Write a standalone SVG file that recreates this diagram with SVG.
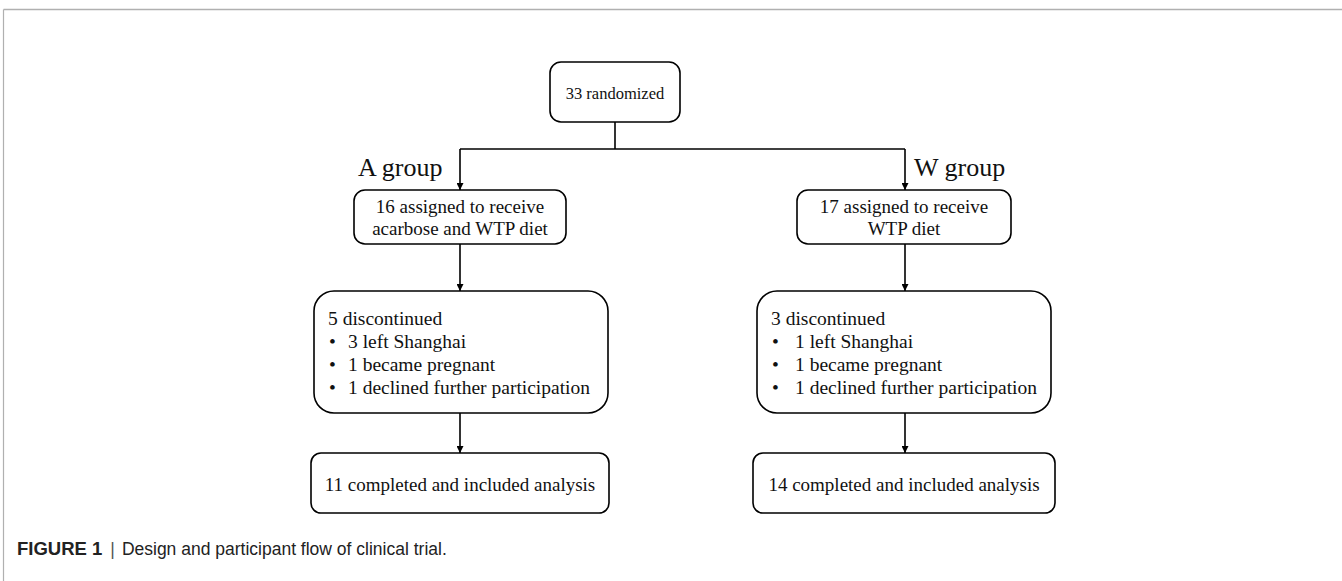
<svg xmlns="http://www.w3.org/2000/svg" width="1342" height="581" viewBox="0 0 1342 581">
<style>
.box{fill:#fff;stroke:#000;stroke-width:1.6}
.t{font-family:"Liberation Serif","Times New Roman",serif;fill:#111;font-size:19px}
.d{font-size:19.5px}
.c{text-anchor:middle}
.lbl{font-family:"Liberation Serif","Times New Roman",serif;fill:#111;font-size:26px}
.ln{stroke:#000;stroke-width:1.6;fill:none}
.cap{font-family:"Liberation Sans",Arial,sans-serif;font-size:17.5px;fill:#222}
</style>
<defs>
<marker id="ah" viewBox="0 0 10 10" refX="10" refY="5" markerWidth="9" markerHeight="7" markerUnits="userSpaceOnUse" orient="auto">
<path d="M0,0 L10,5 L0,10 z" fill="#000"/>
</marker>
</defs>
<rect width="1342" height="581" fill="#fff"/>
<g id="frame">
<line x1="3.5" y1="9.5" x2="1342" y2="9.5" stroke="#b0b0b0" stroke-width="1.5"/>
<line x1="3.5" y1="9.5" x2="3.5" y2="581" stroke="#b0b0b0" stroke-width="1.2"/>
</g>
<g id="connectors">
<path class="ln" d="M615,122 V149"/>
<path class="ln" d="M460,149 H905"/>
<path class="ln" d="M460,149 V190" marker-end="url(#ah)"/>
<path class="ln" d="M905,149 V190" marker-end="url(#ah)"/>
<path class="ln" d="M460,243 V291" marker-end="url(#ah)"/>
<path class="ln" d="M905,243 V291" marker-end="url(#ah)"/>
<path class="ln" d="M460,413 V453" marker-end="url(#ah)"/>
<path class="ln" d="M905,413 V453" marker-end="url(#ah)"/>
</g>
<g id="randomized">
<rect class="box" x="550" y="62" width="130" height="60" rx="11"/>
<text class="t c" x="615" y="99" style="font-size:16.5px">33 randomized</text>
</g>
<g id="labelA"><text class="lbl" x="358" y="176">A group</text></g>
<g id="labelW"><text class="lbl" x="914" y="176">W group</text></g>
<g id="assignA">
<rect class="box" x="354" y="190" width="212" height="54" rx="11"/>
<text class="t c" x="460" y="213">16 assigned to receive</text>
<text class="t c" x="460" y="235">acarbose and WTP diet</text>
</g>
<g id="assignW">
<rect class="box" x="797" y="190" width="214" height="54" rx="11"/>
<text class="t c" x="904" y="213">17 assigned to receive</text>
<text class="t c" x="904" y="235">WTP diet</text>
</g>
<g id="discA">
<rect class="box" x="314" y="291" width="294" height="122" rx="20"/>
<text class="t d" x="328" y="325">5 discontinued</text>
<text class="t d" x="329" y="348">•</text><text class="t d" x="348" y="348">3 left Shanghai</text>
<text class="t d" x="329" y="371">•</text><text class="t d" x="348" y="371">1 became pregnant</text>
<text class="t d" x="329" y="394">•</text><text class="t d" x="348" y="394">1 declined further participation</text>
</g>
<g id="discW">
<rect class="box" x="757" y="291" width="294" height="122" rx="20"/>
<text class="t d" x="771" y="325">3 discontinued</text>
<text class="t d" x="772" y="348">•</text><text class="t d" x="795" y="348">1 left Shanghai</text>
<text class="t d" x="772" y="371">•</text><text class="t d" x="795" y="371">1 became pregnant</text>
<text class="t d" x="772" y="394">•</text><text class="t d" x="795" y="394">1 declined further participation</text>
</g>
<g id="completeA">
<rect class="box" x="311" y="453" width="298" height="60" rx="10"/>
<text class="t c" x="460" y="491">11 completed and included analysis</text>
</g>
<g id="completeW">
<rect class="box" x="753" y="453" width="302" height="60" rx="10"/>
<text class="t c" x="904" y="491">14 completed and included analysis</text>
</g>
<g id="caption">
<text class="cap" x="17" y="555"><tspan font-weight="bold" font-size="18.5px">FIGURE 1</tspan><tspan dx="8" fill="#555">|</tspan><tspan dx="7">Design and participant flow of clinical trial.</tspan></text>
</g>
</svg>
